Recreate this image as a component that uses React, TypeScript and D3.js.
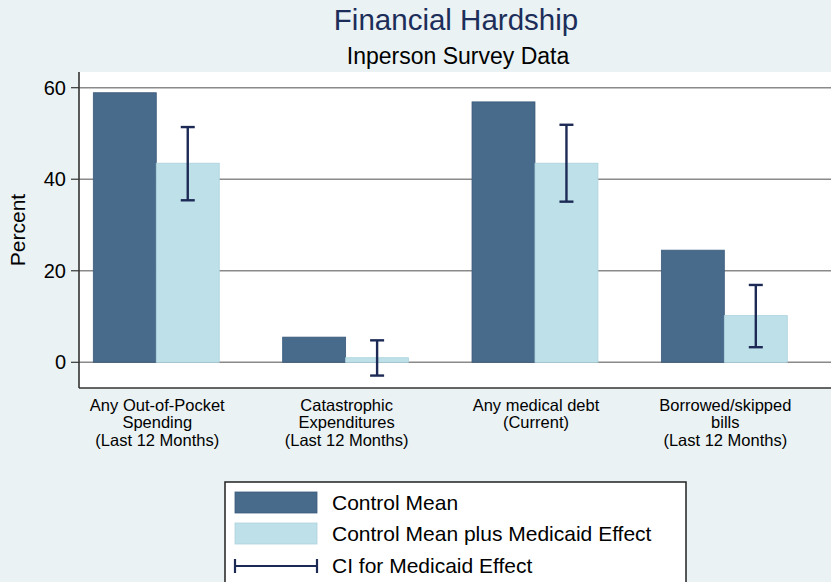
import React from "react";
import * as d3 from "d3";

const categories: string[][] = [
  ["Any Out-of-Pocket", "Spending", "(Last 12 Months)"],
  ["Catastrophic", "Expenditures", "(Last 12 Months)"],
  ["Any medical debt", "(Current)"],
  ["Borrowed/skipped", "bills", "(Last 12 Months)"],
];
const controlMean = [58.9, 5.5, 56.9, 24.5];
const withEffect = [43.5, 1.0, 43.5, 10.2];
const ciLow = [35.4, -2.9, 35.1, 3.3];
const ciHigh = [51.4, 4.8, 51.9, 16.9];
const yTicks = [0, 20, 40, 60];
const seriesNames = ["Control Mean", "Control Mean plus Medicaid Effect"];
const ciName = "CI for Medicaid Effect";

const W = 831;
const H = 582;
const BG = "#eaf2f3";
const DARK = "#486a8b";
const DARK_EDGE = "#3b5b7b";
const LIGHT = "#bee0e9";
const LIGHT_EDGE = "#acd2de";
const CI = "#1c2a55";
const FONT = "'Liberation Sans', Arial, Helvetica, sans-serif";

export default function App() {
  const plotLeft = 79;
  const plotRight = 831;
  const plotTop = 72;
  const plotBottom = 388;

  const y = d3.scaleLinear().domain([0, 60]).range([362.3, 87.7]);
  const x = d3
    .scaleBand<number>()
    .domain(categories.map((_, i) => i))
    .range([61.6, 819])
    .paddingInner(0.335)
    .paddingOuter(0.1675);
  const inner = d3.scaleBand<number>().domain([0, 1]).range([0, x.bandwidth()]);

  return (
    <svg
      width={W}
      height={H}
      style={{ position: "absolute", left: 0, top: 0, fontFamily: FONT }}
    >
      <rect x={0} y={0} width={W} height={H} fill={BG} />
      <text x={456} y={30} textAnchor="middle" fontSize={29.5} fill="#1c2d5a">
        Financial Hardship
      </text>
      <text x={458} y={64} textAnchor="middle" fontSize={23} fill="#000">
        Inperson Survey Data
      </text>

      <rect
        x={plotLeft}
        y={plotTop}
        width={plotRight - plotLeft}
        height={plotBottom - plotTop}
        fill="#fff"
      />
      {yTicks.map((t) => (
        <g key={t}>
          <line
            x1={plotLeft}
            x2={plotRight}
            y1={y(t)}
            y2={y(t)}
            stroke="#8a8a8a"
            strokeWidth={1.6}
          />
          <line x1={71} x2={plotLeft} y1={y(t)} y2={y(t)} stroke="#333" strokeWidth={1.2} />
          <text x={66} y={y(t) + 7} textAnchor="end" fontSize={20} fill="#000">
            {t}
          </text>
        </g>
      ))}

      {categories.map((_, i) => {
        const gx = x(i)!;
        const bw = inner.bandwidth();
        const cx = gx + inner(1)! + bw / 2;
        return (
          <g key={i}>
            <rect
              x={gx + inner(0)!}
              y={y(controlMean[i])}
              width={bw}
              height={y(0) - y(controlMean[i])}
              fill={DARK}
              stroke={DARK_EDGE}
              strokeWidth={0.8}
            />
            <rect
              x={gx + inner(1)!}
              y={y(withEffect[i])}
              width={bw}
              height={y(0) - y(withEffect[i])}
              fill={LIGHT}
              stroke={LIGHT_EDGE}
              strokeWidth={0.8}
            />
            <line x1={cx} x2={cx} y1={y(ciLow[i])} y2={y(ciHigh[i])} stroke={CI} strokeWidth={2.4} />
            <line x1={cx - 7} x2={cx + 7} y1={y(ciLow[i])} y2={y(ciLow[i])} stroke={CI} strokeWidth={2.4} />
            <line x1={cx - 7} x2={cx + 7} y1={y(ciHigh[i])} y2={y(ciHigh[i])} stroke={CI} strokeWidth={2.4} />
          </g>
        );
      })}

      <line x1={plotLeft} x2={plotLeft} y1={plotTop} y2={plotBottom} stroke="#333" strokeWidth={1.6} />
      <line x1={plotLeft} x2={plotRight} y1={plotBottom} y2={plotBottom} stroke="#333" strokeWidth={1.6} />

      {categories.map((lines, i) => {
        const cx = x(i)! + x.bandwidth() / 2;
        return (
          <text key={i} textAnchor="middle" fontSize={16.5} fill="#000">
            {lines.map((l, j) => (
              <tspan key={j} x={cx + 1} y={411 + j * 17.3}>
                {l}
              </tspan>
            ))}
          </text>
        );
      })}

      <text
        transform={`translate(25, 230) rotate(-90)`}
        textAnchor="middle"
        fontSize={21}
        fill="#000"
      >
        Percent
      </text>

      <rect x={225} y={482} width={461} height={120} fill="#fff" stroke="#222" strokeWidth={1.5} />
      <rect x={235} y={492} width={82} height={21} fill={DARK} stroke={DARK_EDGE} strokeWidth={0.8} />
      <rect x={235} y={523} width={82} height={21} fill={LIGHT} stroke={LIGHT_EDGE} strokeWidth={0.8} />
      <line x1={235} x2={317} y1={566} y2={566} stroke={CI} strokeWidth={2.2} />
      <line x1={235} x2={235} y1={559} y2={573} stroke={CI} strokeWidth={2.2} />
      <line x1={317} x2={317} y1={559} y2={573} stroke={CI} strokeWidth={2.2} />
      <text x={332} y={510} fontSize={21} fill="#000">
        {seriesNames[0]}
      </text>
      <text x={332} y={541} fontSize={21} fill="#000">
        {seriesNames[1]}
      </text>
      <text x={332} y={573} fontSize={21} fill="#000">
        {ciName}
      </text>
    </svg>
  );
}
